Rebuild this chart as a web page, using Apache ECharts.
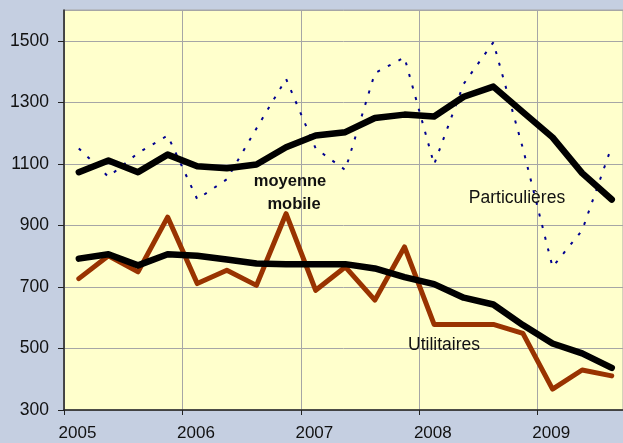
<!DOCTYPE html>
<html>
<head>
<meta charset="utf-8">
<script src="https://cdn.jsdelivr.net/npm/echarts@6/dist/echarts.min.js"></script>
<style>
  html, body { margin: 0; padding: 0; background: #c5cfe1; }
  #chart { width: 623px; height: 443px; }
</style>
</head>
<body>
<div id="chart"></div>
<script>
// trimestres (mois du point)
let periodes = ['2005-02', '2005-05', '2005-08', '2005-11',
    '2006-02', '2006-05', '2006-08', '2006-11',
    '2007-02', '2007-05', '2007-08', '2007-11',
    '2008-02', '2008-05', '2008-08', '2008-11',
    '2009-02', '2009-05', '2009-08']

let particulieres = [1150, 1058, 1135, 1192, 985, 1050, 1215, 1376, 1150, 1080,
    1395, 1446, 1098, 1360, 1495, 1150, 765, 884, 1157]
let moyenneParticulieres = [1073, 1111, 1073, 1130, 1092, 1086, 1098, 1154, 1192, 1203,
    1249, 1260, 1254, 1318, 1351, 1268, 1186, 1070, 984]
let utilitaires = [727, 801, 749, 927, 711, 754, 705, 938, 689, 765,
    657, 830, 578, 578, 578, 549, 368, 430, 411]
let moyenneUtilitaires = [792, 806, 770, 806, 801, 789, 776, 774, 774, 774,
    760, 732, 709, 665, 643, 576, 516, 484, 437]

let annees = [2005, 2006, 2007, 2008, 2009]

// date -> année décimale (milieu du mois)
let toX = p => {
    let [a, m] = p.split('-').map(Number)
    return a + (m - 0.5) / 12
}
let pairs = vals => periodes.map((p, i) => [toX(p), vals[i]])

let font = 'Liberation Sans, Arial, sans-serif'

let option = {
    backgroundColor: '#c5cfe1',
    animation: false,
    grid: {
        left: 64, top: 10, right: 0, bottom: 33,
        show: true, backgroundColor: '#ffffcc', borderColor: '#a6a6a6', borderWidth: 1
    },
    xAxis: {
        type: 'value',
        min: annees[0],
        max: 2009.72,
        interval: 1,
        axisLine: { onZero: false, lineStyle: { color: '#222', width: 1.5 } },
        axisTick: { length: 5, lineStyle: { color: '#222' } },
        axisLabel: {
            showMaxLabel: false,
            color: '#111', fontFamily: font, fontSize: 17, margin: 15,
            padding: [0, 0, 0, 27],
            formatter: v => annees.includes(v) ? String(v) : ''
        },
        splitLine: { lineStyle: { color: '#a6a6a6', width: 1 } }
    },
    yAxis: {
        type: 'value',
        min: 300,
        max: 1600,
        interval: 200,
        axisLine: { show: true, lineStyle: { color: '#222', width: 1.5 } },
        axisTick: { show: true, length: 6, lineStyle: { color: '#222' } },
        axisLabel: {
            showMaxLabel: false, color: '#111', fontFamily: font, fontSize: 17.5, margin: 15,
            formatter: v => String(v)
        },
        splitLine: { lineStyle: { color: '#a6a6a6', width: 1 } }
    },
    series: [
        {
            name: 'Particulières', type: 'line', data: pairs(particulieres),
            symbol: 'none', z: 2,
            lineStyle: { color: '#000090', width: 2, type: [3, 9] }
        },
        {
            name: 'Utilitaires', type: 'line', data: pairs(utilitaires),
            symbol: 'none', z: 3,
            lineStyle: { color: '#993300', width: 5, join: 'round', cap: 'round' }
        },
        {
            name: 'moyenne mobile particulières', type: 'line', data: pairs(moyenneParticulieres),
            symbol: 'none', z: 4,
            lineStyle: { color: '#000', width: 6.5, join: 'round', cap: 'round' }
        },
        {
            name: 'moyenne mobile utilitaires', type: 'line', data: pairs(moyenneUtilitaires),
            symbol: 'none', z: 4,
            lineStyle: { color: '#000', width: 6.5, join: 'round', cap: 'round' }
        }
    ],
    graphic: [
        {
            type: 'text', x: 290, y: 181, z: 10,
            style: {
                text: 'moyenne', align: 'center', verticalAlign: 'middle',
                fill: '#111', font: 'bold 16.5px ' + font
            }
        },
        {
            type: 'text', x: 294, y: 204, z: 10,
            style: {
                text: 'mobile', align: 'center', verticalAlign: 'middle',
                fill: '#111', font: 'bold 16.5px ' + font
            }
        },
        {
            type: 'text', x: 517, y: 198, z: 10,
            style: {
                text: 'Particulières', align: 'center', verticalAlign: 'middle',
                fill: '#111', font: '17.5px ' + font
            }
        },
        {
            type: 'text', x: 444, y: 345, z: 10,
            style: {
                text: 'Utilitaires', align: 'center', verticalAlign: 'middle',
                fill: '#111', font: '17.5px ' + font
            }
        }
    ]
}

let chart = echarts.init(document.getElementById('chart'))
chart.setOption(option)
window.addEventListener('resize', () => chart.resize(), false)
</script>
</body>
</html>
